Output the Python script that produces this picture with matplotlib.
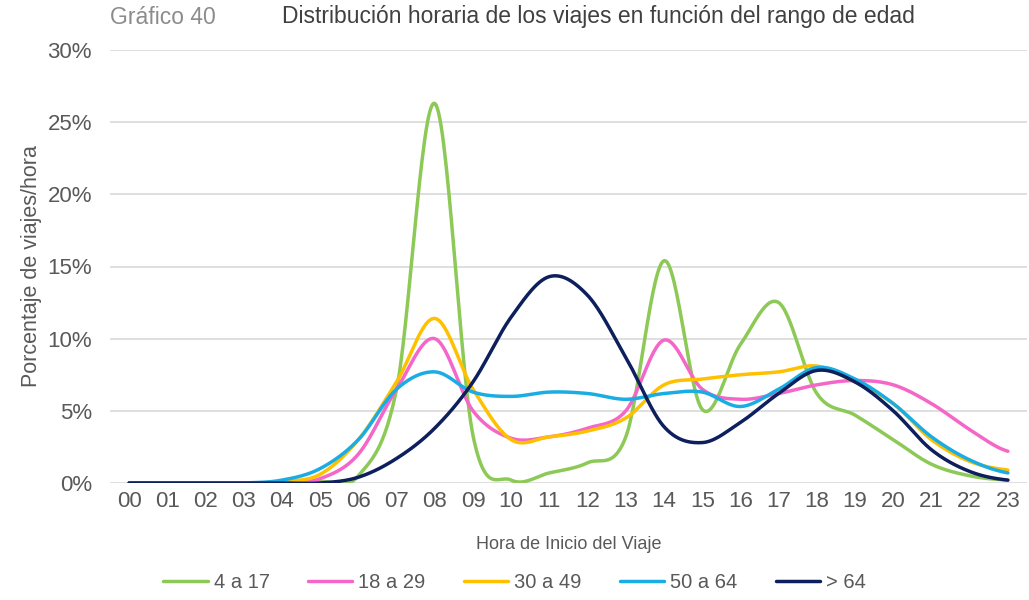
import numpy as np
import matplotlib.pyplot as plt

plt.rcParams['font.family'] = ['Liberation Sans', 'DejaVu Sans']

hours = [f"{h:02d}" for h in range(24)]

# percentage of trips per hour, by age group
g_4_17 = [0, 0, 0, 0, 0, 0.1, 0.5, 6.5, 26.3, 3.3, 0.2, 0.7, 1.4, 3.2, 15.4, 5.1, 9.6, 12.5, 6.2, 4.7, 3.0, 1.3, 0.5, 0.2]
g_18_29 = [0, 0, 0, 0, 0, 0.3, 2.0, 6.5, 10.0, 5.0, 3.1, 3.2, 3.8, 5.0, 9.9, 6.5, 5.8, 6.2, 6.8, 7.1, 6.8, 5.5, 3.7, 2.2]
g_30_49 = [0, 0, 0, 0, 0.1, 0.6, 3.0, 7.0, 11.4, 6.5, 3.0, 3.2, 3.6, 4.5, 6.8, 7.2, 7.5, 7.7, 8.1, 7.0, 5.5, 3.0, 1.5, 0.9]
g_50_64 = [0, 0, 0, 0, 0.2, 1.0, 3.0, 6.5, 7.7, 6.3, 6.0, 6.3, 6.2, 5.8, 6.2, 6.3, 5.3, 6.5, 8.0, 7.2, 5.5, 3.2, 1.6, 0.7]
g_64 = [0, 0, 0, 0, 0, 0, 0.4, 1.7, 3.8, 7.0, 11.5, 14.3, 13.0, 8.7, 3.9, 2.8, 4.2, 6.2, 7.8, 7.0, 5.0, 2.3, 0.8, 0.2]

labels = ["4 a 17", "18 a 29", "30 a 49", "50 a 64", "> 64"]
colors = ["#8DC956", "#F466C8", "#FFC000", "#1AADE4", "#0D1F5C"]


def smooth(y, n=30):
    # Catmull-Rom style smoothing like Excel's "smoothed line"
    y = np.asarray(y, dtype=float)
    x = np.arange(len(y), dtype=float)
    p = np.concatenate([[y[0]], y, [y[-1]]])
    xs, ys = [], []
    for i in range(len(y) - 1):
        p0, p1, p2, p3 = p[i], p[i + 1], p[i + 2], p[i + 3]
        t = np.linspace(0, 1, n, endpoint=False)
        yy = 0.5 * ((2 * p1) + (-p0 + p2) * t + (2 * p0 - 5 * p1 + 4 * p2 - p3) * t ** 2
                    + (-p0 + 3 * p1 - 3 * p2 + p3) * t ** 3)
        xs.append(x[i] + t)
        ys.append(yy)
    xs.append([x[-1]])
    ys.append([y[-1]])
    return np.concatenate(xs), np.concatenate(ys)


fig = plt.figure(figsize=(10.29, 6.0), dpi=100)
ax = fig.add_axes([110 / 1029, 1 - 483 / 600, 917 / 1029, 433 / 600])

for data, lab, col in zip([g_4_17, g_18_29, g_30_49, g_50_64, g_64], labels, colors):
    xs, ys = smooth(data)
    ax.plot(xs, ys, color=col, lw=2.5, label=lab, solid_capstyle='round')

ax.set_xlim(-0.5, 23.5)
ax.set_ylim(0, 30)
ax.set_yticks(range(0, 31, 5))
ax.set_yticklabels([f"{v}%" for v in range(0, 31, 5)])
ax.set_xticks(range(24))
ax.set_xticklabels(hours)
ax.grid(axis='y', color='#D9D9D9', lw=1.2)
ax.set_axisbelow(True)
for s in ax.spines.values():
    s.set_visible(False)
ax.tick_params(length=0, labelsize=16, colors='#595959', pad=6)
ax.tick_params(axis='y', pad=13)

ax.set_ylabel("Porcentaje de viajes/hora", fontsize=15.5, color='#595959', labelpad=4)
ax.set_xlabel("Hora de Inicio del Viaje", fontsize=13, color='#595959', labelpad=17)

fig.text(110 / 1029, 1 - 17 / 600, "Gráfico 40", fontsize=16.5, color='#8C8C8C', va='center')
fig.text(282 / 1029, 1 - 17 / 600, "Distribución horaria de los viajes en función del rango de edad",
         fontsize=16.5, color='#404040', va='center')

fig.legend(loc='center', bbox_to_anchor=(0.5, 1 - 583 / 600), ncol=5, frameon=False,
           fontsize=14.5, handlelength=2.2, handletextpad=0.3, columnspacing=1.9,
           labelcolor='#595959')

fig.savefig("out.png", dpi=100)
